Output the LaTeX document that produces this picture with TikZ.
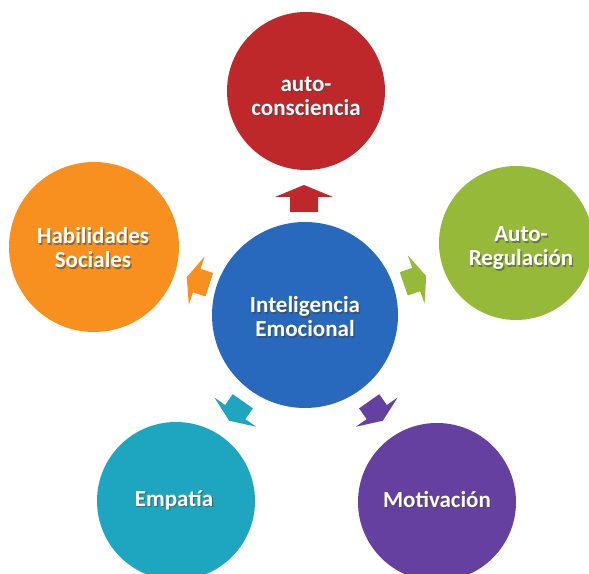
\documentclass[tikz,border=0pt]{standalone}
\usepackage{fontspec}
\setmainfont{Carlito}
\definecolor{cRed}{RGB}{190,40,42}
\definecolor{cOrange}{RGB}{247,144,30}
\definecolor{cGreen}{RGB}{150,185,58}
\definecolor{cTeal}{RGB}{30,166,192}
\definecolor{cPurple}{RGB}{102,64,160}
\definecolor{cBlue}{RGB}{40,105,190}
\tikzset{
  bub/.style={circle, inner sep=0pt, draw=none},
  txt/.style={font=\bfseries\fontsize{23}{24}\selectfont, align=center, inner sep=0pt},
  shad/.style={txt, text=black!75, opacity=0.55},
  front/.style={txt, text=white}
}
\newcommand\blockarr[5]{% x, y, angle, colour, scale
  \fill[#4, shift={(#1,#2)}, rotate=#3, scale=#5]
    (13.5,0) -- (1.5,29) -- (1.5,14) -- (-13.5,14) -- (-13.5,-14)
    -- (1.5,-14) -- (1.5,-29) -- cycle;}
\begin{document}
\begin{tikzpicture}[x=1pt,y=1pt]
\useasboundingbox (0,0) rectangle (589,573);
\fill[white] (0,0) rectangle (589,573);

% circles
\node[bub, fill=cBlue,   minimum size=186pt] (blue)   at (305,258) {};
\node[bub, fill=cRed,    minimum size=158pt] (red)    at (306,482) {};
\node[bub, fill=cOrange, minimum size=170pt] (orange) at (94,326) {};
\node[bub, fill=cGreen,  minimum size=154pt] (green)  at (516,330) {};
\node[bub, fill=cTeal,   minimum size=158pt] (teal)   at (176,72) {};
\node[bub, fill=cPurple, minimum size=158pt] (purple) at (437,71) {};

% block arrows pointing from the centre outwards
\blockarr{304}{374.5}{90}{cRed}{1}
\blockarr{198}{292}{162}{cOrange}{0.88}
\blockarr{415}{293}{19}{cGreen}{0.88}
\blockarr{236}{162}{235}{cTeal}{0.88}
\blockarr{376}{162}{-55}{cPurple}{0.88}

% texts with shadow
\node[shad]  (bluesh)   at (306.3,254.5) {Inteligencia\\Emocional};
\node[front] (bluet)    at (305,256)     {Inteligencia\\Emocional};
\node[shad]  (redsh)    at (307.3,475.5) {auto-\\consciencia};
\node[front] (redt)     at (306,477)     {auto-\\consciencia};
\node[shad]  (orangesh) at (94.3,323.5)  {Habilidades\\Sociales};
\node[front] (oranget)  at (93,325)      {Habilidades\\Sociales};
\node[shad]  (greensh)  at (522.3,323.5) {Auto-\\Regulación};
\node[front] (greent)   at (521,325)     {Auto-\\Regulación};
\node[shad]  (tealsh)   at (175.3,71.5)  {Empatía};
\node[front] (tealt)    at (174,73)      {Empatía};
\node[shad]  (purplesh) at (438.3,72.5)  {Motivación};
\node[front] (purplet)  at (437,74)      {Motivación};
\end{tikzpicture}
\end{document}
